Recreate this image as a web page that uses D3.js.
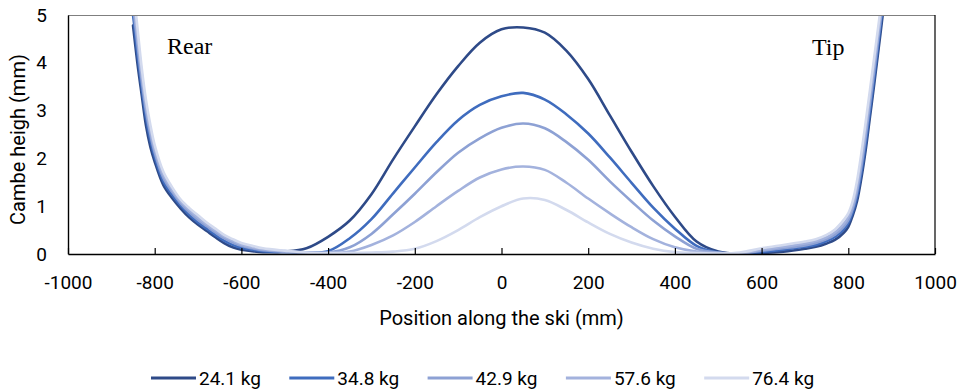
<!DOCTYPE html>
<html><head><meta charset="utf-8">
<script src="https://cdnjs.cloudflare.com/ajax/libs/d3/7.8.5/d3.min.js"></script>
<style>
html,body{margin:0;padding:0;background:#fff;}
svg{display:block;}
</style></head>
<body><svg id="chart" width="963" height="390"></svg>
<script>
// ---- data ----
const positions = [-860,-850,-840,-830,-820,-810,-800,-780,-760,-740,-720,-700,-680,-660,-640,-620,-600,-575,-550,-500,-450,-400,-350,-300,-250,-200,-150,-100,-50,0,50,100,150,200,250,300,350,400,450,500,550,600,650,700,725,750,770,790,800,810,820,830,840,850,860,870,880];
const seriesNames = ["24.1 kg","34.8 kg","42.9 kg","57.6 kg","76.4 kg"];
const h241 = [null,4.78,4.0,3.33,2.68,2.24,1.93, 1.44,1.17,0.95,0.76,0.61,0.48,0.35,0.23,0.14,0.09, 0.06,0.04, 0.05,0.12,0.36,0.70,1.25,1.98,2.67,3.34,3.93,4.42, 4.70, 4.74,4.63,4.25,3.66,2.90,2.14,1.42,0.78,0.26,0.05,0.0, 0.02,0.05,0.11, 0.15,0.22,0.30,0.45, 0.57,0.80,1.10,1.58,2.17,2.87,3.57,4.30,5.05];
const h348 = [5.6,5.0,4.2,3.48,2.85,2.38,2.03, 1.52,1.24,1.01,0.82,0.66,0.53,0.40,0.28,0.19,0.13, 0.09,0.06, 0.04,0.03,0.06,0.33,0.73,1.27,1.81,2.34,2.80,3.12, 3.30, 3.37,3.23,2.92,2.52,2.02,1.49,0.97,0.53,0.17,0.03,0.0, 0.04,0.09,0.15, 0.19,0.27,0.36,0.52, 0.65,0.87,1.20,1.70,2.30,3.00,3.70,4.45,5.20];
const h429 = [5.9,5.2,4.4,3.63,2.98,2.50,2.12, 1.59,1.30,1.06,0.87,0.71,0.58,0.45,0.33,0.24,0.17, 0.12,0.08, 0.05,0.03,0.03,0.14,0.42,0.83,1.26,1.71,2.12,2.42, 2.64, 2.73,2.63,2.34,1.97,1.52,1.10,0.70,0.37,0.11,0.03,0.01, 0.07,0.12,0.18, 0.23,0.31,0.41,0.58, 0.71,0.94,1.30,1.82,2.45,3.15,3.85,4.58,5.30];
const h576 = [6.1,5.4,4.58,3.78,3.10,2.60,2.20, 1.66,1.35,1.10,0.92,0.76,0.62,0.49,0.37,0.28,0.20, 0.14,0.10, 0.06,0.03,0.02,0.05,0.19,0.39,0.67,1.00,1.32,1.60, 1.77, 1.83,1.76,1.49,1.16,0.85,0.56,0.31,0.14,0.05,0.02,0.01, 0.09,0.15,0.22, 0.27,0.35,0.46,0.64, 0.78,1.02,1.40,1.95,2.60,3.30,4.00,4.70,5.40];
const h764 = [6.3,5.6,4.75,3.90,3.22,2.70,2.28, 1.72,1.40,1.14,0.96,0.81,0.66,0.53,0.40,0.31,0.23, 0.17,0.12, 0.07,0.03,0.02,0.02,0.03,0.05,0.11,0.27,0.50,0.77, 1.00, 1.16,1.13,0.92,0.66,0.42,0.24,0.11,0.04,0.02,0.01,0.03, 0.12,0.19,0.26, 0.31,0.40,0.52,0.72, 0.85,1.10,1.52,2.10,2.75,3.43,4.13,4.82,5.50];
const xTicks = [-1000,-800,-600,-400,-200,0,200,400,600,800,1000];
const yTicks = [0,1,2,3,4,5];
const colors = ["#2E4A88","#3F6CBE","#8DA1D4","#A3B2DD","#D3DAEE"];

const allSeries = [h241,h348,h429,h576,h764];

// ---- layout ----
const W = 963, H = 390;
const m = {left:68, right:28, top:15, bottom:136};
const pw = W - m.left - m.right, ph = H - m.top - m.bottom;
const svg = d3.select("#chart");
const x = d3.scaleLinear().domain([-1000,1000]).range([m.left, m.left+pw]);
const y = d3.scaleLinear().domain([0,5]).range([m.top+ph, m.top]);
const sans = "Roboto, 'Open Sans', sans-serif";

svg.append("defs").append("clipPath").attr("id","clip")
  .append("rect").attr("x",m.left).attr("y",m.top).attr("width",pw).attr("height",ph);

// lines
const line = d3.line()
  .defined(d => d[1] !== null)
  .x(d => x(d[0])).y(d => y(d[1]))
  .curve(d3.curveCatmullRom.alpha(0.5));
const g = svg.append("g").attr("clip-path","url(#clip)");
allSeries.forEach((s,i) => {
  g.append("path")
    .datum(positions.map((p,j) => [p, s[j]]))
    .attr("fill","none").attr("stroke",colors[i])
    .attr("stroke-width",2.6).attr("stroke-linejoin","round").attr("stroke-linecap","round")
    .attr("d", line);
});

// frame
svg.append("line").attr("x1",m.left).attr("x2",m.left+pw).attr("y1",m.top+0.5).attr("y2",m.top+0.5).attr("stroke","#7f7f7f").attr("stroke-width",1.2);
svg.append("line").attr("x1",m.left+pw).attr("x2",m.left+pw).attr("y1",m.top).attr("y2",m.top+ph).attr("stroke","#000").attr("stroke-width",1.2);

// x axis (inside ticks)
const fmt = d => String(d);
const xAxis = d3.axisBottom(x).tickValues(xTicks).tickSizeInner(-6).tickSizeOuter(0).tickPadding(14).tickFormat(fmt);
const gx = svg.append("g").attr("transform",`translate(0,${m.top+ph})`).call(xAxis);
gx.select(".domain").attr("stroke","#000").attr("stroke-width",1.4);
gx.selectAll(".tick line").attr("stroke","#000").attr("stroke-width",1.2);
gx.selectAll(".tick text").attr("font-family",sans).attr("font-size","19px").attr("fill","#000")
  .attr("dy",null).attr("y",35);

// y axis
const yAxis = d3.axisLeft(y).tickValues(yTicks).tickSize(0).tickPadding(21).tickFormat(fmt);
const gy = svg.append("g").attr("transform",`translate(${m.left},0)`).call(yAxis);
gy.select(".domain").attr("stroke","#000").attr("stroke-width",1.4);
gy.selectAll(".tick text").attr("font-family",sans).attr("font-size","19px").attr("fill","#000");

// axis titles
svg.append("text").attr("x", m.left + pw/2).attr("y", 325).attr("text-anchor","middle")
  .attr("font-family",sans).attr("font-size","20px").attr("fill","#000")
  .text("Position along the ski (mm)");
svg.append("text").attr("transform",`translate(25,${m.top+ph/2+5}) rotate(-90)`).attr("text-anchor","middle")
  .attr("font-family",sans).attr("font-size","20px").attr("fill","#000")
  .text("Cambe heigh (mm)");

// annotations
svg.append("text").attr("x",167).attr("y",54).attr("font-family","'Liberation Serif', 'Times New Roman', serif")
  .attr("font-size","24px").attr("fill","#000").text("Rear");
svg.append("text").attr("x",812).attr("y",55).attr("font-family","'Liberation Serif', 'Times New Roman', serif")
  .attr("font-size","24px").attr("fill","#000").text("Tip");

// legend
const lg = svg.append("g");
seriesNames.forEach((n,i) => {
  const x0 = 151 + i*138.3;
  lg.append("line").attr("x1",x0).attr("x2",x0+45).attr("y1",378).attr("y2",378)
    .attr("stroke",colors[i]).attr("stroke-width",3);
  lg.append("text").attr("x",x0+48).attr("y",378).attr("dy","0.35em")
    .attr("font-family",sans).attr("font-size","19px").attr("fill","#000").text(n);
});
</script></body></html>
